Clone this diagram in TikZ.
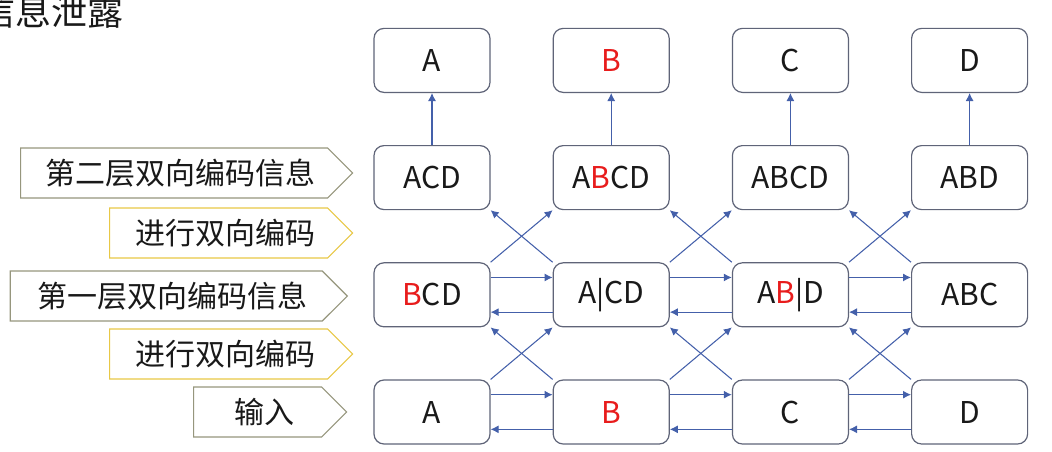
\documentclass[tikz,border=0pt]{standalone}
\usepackage{fontspec}
\setmainfont{Noto Sans CJK SC}
\usetikzlibrary{positioning, shapes.symbols, arrows, arrows.meta}
\definecolor{boxline}{RGB}{95,100,120}
\definecolor{linkblue}{RGB}{68,96,170}
\definecolor{tagline}{RGB}{150,150,125}
\definecolor{tagyellow}{RGB}{232,200,70}
\definecolor{leak}{RGB}{232,28,28}
\newcommand{\hl}[1]{\textcolor{leak}{#1}}

\begin{document}
\begin{tikzpicture}[
		every node/.style={font=\fontsize{22.5pt}{27pt}\selectfont, text=black!90},
		box/.style={rectangle, rounded corners=7.5pt, draw=boxline, line width=0.9pt, fill=white, minimum width=87pt, minimum height=48pt, inner sep=0pt},
		link/.style={-{Latex[length=6pt,width=6pt]}, draw=linkblue, line width=0.8pt},
		tag/.style={signal, signal to=east, signal from=nowhere, draw=tagline, line width=0.8pt, fill=white, minimum height=37.5pt, inner sep=0pt, anchor=east, execute at begin node=\hspace*{10pt}},
		node distance=39pt and 46.5pt]
			\useasboundingbox (0,0) rectangle (789pt,338.25pt);
			\node[anchor=base east, font=\fontsize{27pt}{32pt}\selectfont] (title) at (96pt,318.75pt) {信息泄露};
			% input row
			\node[box] (iA) at (324pt,29.25pt) {A};
			\node[box, right=of iA] (iB) {\hl{B}};
			\node[box, right=of iB] (iC) {C};
			\node[box, right=of iC] (iD) {D};
			% first layer
			\node[box, above=of iA] (f1) {\hl{B}CD};
			\node[box, above=of iB] (f2) {A|CD};
			\node[box, above=of iC] (f3) {A\hl{B}|D};
			\node[box, above=of iD] (f4) {ABC};
			% second layer
			\node[box, above=of f1] (s1) {ACD};
			\node[box, above=of f2] (s2) {A\hl{B}CD};
			\node[box, above=of f3] (s3) {ABCD};
			\node[box, above=of f4] (s4) {ABD};
			% output
			\node[box, above=of s1] (o1) {A};
			\node[box, above=of s2] (o2) {\hl{B}};
			\node[box, above=of s3] (o3) {C};
			\node[box, above=of s4] (o4) {D};
			% tags on the left
			\node[tag, minimum width=249pt] (lay2) at (265pt,208.5pt) {第二层双向编码信息};
			\node[tag, draw=tagyellow, minimum width=182.25pt] (enc2) at (265pt,163.5pt) {进行双向编码};
			\node[tag, minimum width=252.75pt] (lay1) at (261pt,116.25pt) {第一层双向编码信息};
			\node[tag, draw=tagyellow, minimum width=182.25pt] (enc1) at (265pt,72.75pt) {进行双向编码};
			\node[tag, left=19.5pt of iA, minimum width=114.75pt] (inp) {输入};
			% arrows
			\foreach \l/\r in {iA/iB, iB/iC, iC/iD, f1/f2, f2/f3, f3/f4} {
				\draw[link] ([yshift=13pt]\l.east) -- ([yshift=13pt]\r.west);
				\draw[link] ([yshift=-13pt]\r.west) -- ([yshift=-13pt]\l.east);
			}
			\foreach \lo/\hi in {iA/f2, iB/f3, iC/f4, f1/s2, f2/s3, f3/s4}
				\draw[link] (\lo.north east) -- (\hi.south west);
			\foreach \lo/\hi in {iB/f1, iC/f2, iD/f3, f2/s1, f3/s2, f4/s3}
				\draw[link] (\lo.north west) -- (\hi.south east);
			\foreach \lo/\hi in {s1/o1, s2/o2, s3/o3, s4/o4}
				\draw[link] (\lo) -- (\hi);
		\end{tikzpicture}
\end{document}
